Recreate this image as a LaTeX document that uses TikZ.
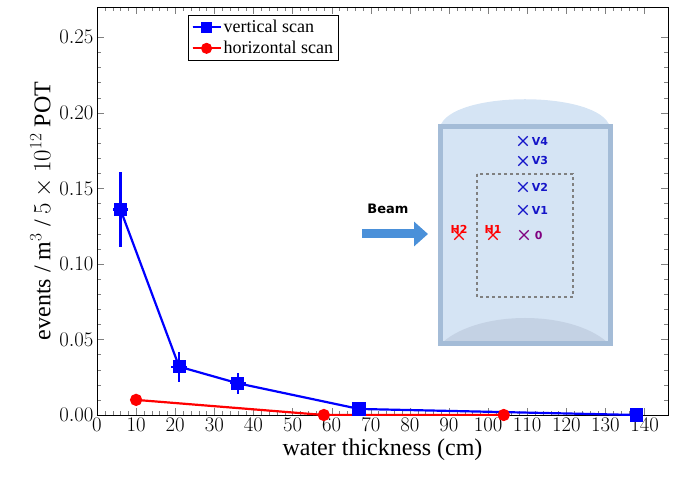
\documentclass[tikz,border=0pt]{standalone}
\usepackage{fontspec}
\setmainfont{Liberation Serif}
\newfontfamily\insetfont{DejaVu Sans}
\usepackage{pgfplots}
\pgfplotsset{compat=1.18}
\usetikzlibrary{arrows.meta,shapes.misc}
\definecolor{vesselfill}{RGB}{213,228,244}
\definecolor{vesselrim}{RGB}{164,188,215}
\definecolor{vesselbot}{RGB}{196,210,228}
\definecolor{beamblue}{RGB}{74,144,217}
\definecolor{vblue}{RGB}{20,20,200}
\tikzset{
  vmark/.style = {text=vblue, font=\insetfont\bfseries\fontsize{11}{12}\selectfont, anchor=west, inner sep=1pt},
  xmark/.style = {cross out, draw, inner sep=0pt, minimum size=8pt, line width=1.3pt}
}
\begin{document}
\begin{tikzpicture}[x=1pt,y=1pt]
\useasboundingbox (0,0) rectangle (679,484);
\begin{axis}[
    at={(97pt,69pt)}, anchor=south west,
    scale only axis, width=571pt, height=408pt,
    xmin=0, xmax=146, ymin=0, ymax=0.27,
    xtick={0,10,...,140}, ytick={0,0.05,...,0.25},
    minor x tick num=4, minor y tick num=4,
    tick align=inside, xtick pos=both, ytick pos=both,
    major tick length=7pt, minor tick length=4pt,
    yticklabel style={/pgf/number format/.cd, fixed, fixed zerofill, precision=2},
    ticklabel style={font=\fontsize{20}{20}\selectfont},
    xlabel={water thickness (cm)},
    ylabel={events / m$^3$ / $5\times10^{12}$ POT},
    label style={font=\fontsize{24}{24}\selectfont},
    legend style={at={(0.16,0.98)}, anchor=north west, font=\fontsize{18}{26}\selectfont,
      cells={anchor=west}, inner sep=3pt, row sep=3pt},
    legend image post style={line width=2pt, mark size=4.5pt},
    legend image code/.code={\draw[#1] (0pt,0pt) -- (28pt,0pt); \draw[#1, mark repeat=2, mark phase=2] plot coordinates {(0pt,0pt) (14pt,0pt) (28pt,0pt)};},
]
\addplot[blue, line width=2.2pt, mark=square*, mark size=5.5pt,
    error bars/.cd, y dir=both, y explicit, x dir=both, x explicit,
    error bar style={line width=2.2pt}, error mark=none]
  coordinates {(6,0.136) +- (2,0.025) (21,0.032) +- (2,0.01) (36,0.021) +- (2,0.007) (67,0.004) +- (1,0.001) (138,0.0) +- (1,0)};
\addlegendentry{vertical scan}
\addplot[red, line width=2.2pt, mark=*, mark size=5pt]
  coordinates {(10,0.010) (58,0.0) (104,0.0)};
\addlegendentry{horizontal scan}
\end{axis}
% inset: the vessel and the scan points
\begin{scope}[shift={(0,484)}, yscale=-1]
  \fill[vesselfill] (440,127) .. controls (450,90) and (600,90) .. (610,127) -- cycle;
  \fill[vesselfill] (440,125) rectangle (610,345);
  \fill[vesselbot] (443,342) .. controls (480,310) and (570,310) .. (607,342) -- cycle;
  \draw[vesselrim, line width=5pt] (440,127) rectangle (610,344);
  \draw[gray, dashed, line width=1.3pt] (477,174) rectangle (573,297);
  \draw[beamblue, line width=9pt, -{Triangle[length=14pt,width=24pt]}] (362,234) -- (428,234);
  \node[font=\insetfont\bfseries\fontsize{13}{14}\selectfont] (beam) at (388,209) {Beam};
  \node[xmark, vblue] (v4) at (523,141) {};
  \node[xmark, vblue] (v3) at (523,161) {};
  \node[xmark, vblue] (v2) at (523,187) {};
  \node[xmark, vblue] (v1) at (523,210) {};
  \node[xmark, violet] (o) at (524,235) {};
  \node[xmark, red] (h1) at (493,235) {};
  \node[xmark, red] (h2) at (459,235) {};
  \node[vmark] at ([xshift=3pt]v4.east) {V4};
  \node[vmark] at ([xshift=3pt]v3.east) {V3};
  \node[vmark] at ([xshift=3pt]v2.east) {V2};
  \node[vmark] at ([xshift=3pt]v1.east) {V1};
  \node[vmark, text=violet] at ([xshift=5pt]o.east) {0};
  \node[vmark, text=red, anchor=south] at ([yshift=4pt]h1.north) {H1};
  \node[vmark, text=red, anchor=south] at ([yshift=4pt]h2.north) {H2};
\end{scope}
\end{tikzpicture}
\end{document}
